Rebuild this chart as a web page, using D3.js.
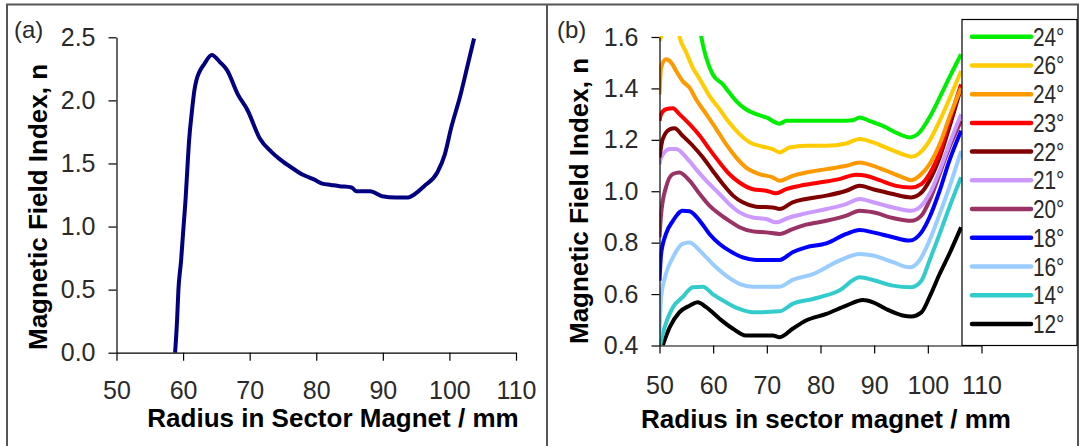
<!DOCTYPE html>
<html>
<head>
    <meta charset="utf-8">
    <title>Magnetic Field Index</title>
    <style>
        body { margin: 0; background: #fff; }
        text { font-family: "Liberation Sans", Arial, sans-serif; }
    </style>
</head>
<body>
    <script src="https://cdnjs.cloudflare.com/ajax/libs/d3/7.9.0/d3.min.js"></script>
    <script>

        // panel (a): radius (mm) and field index n
        const radiusA = [58.8, 59.1, 59.3, 59.7, 60.0, 60.4, 60.6, 60.9, 61.3, 61.7, 62.0, 62.4, 63.2, 64.3, 65.6, 66.6, 68.2, 69.7, 71.5, 73.3, 74.6, 76.5, 78.0, 79.8, 80.9, 82.2, 83.5, 85.3, 86.0, 88.1, 89.9, 92.0, 93.8, 94.6, 96.2, 98.2, 99.3, 100.3, 101.6, 102.7, 103.7];
        const indexA = [0.0, 0.26, 0.50, 0.73, 0.95, 1.24, 1.42, 1.68, 1.90, 2.08, 2.16, 2.22, 2.29, 2.36, 2.30, 2.24, 2.05, 1.92, 1.70, 1.59, 1.53, 1.46, 1.41, 1.37, 1.34, 1.33, 1.32, 1.31, 1.28, 1.28, 1.24, 1.23, 1.23, 1.25, 1.32, 1.43, 1.57, 1.79, 2.03, 2.27, 2.49];

        // panel (b): one curve per angle, [radius, n]
        const curve24top = [[57.3, 1.68], [57.8, 1.60], [58.7, 1.52], [59.9, 1.455], [61.8, 1.416], [63.0, 1.384], [64.3, 1.351], [66.1, 1.319], [68.0, 1.30], [69.9, 1.287], [72.4, 1.263], [73.6, 1.274], [77.3, 1.274], [83.5, 1.274], [86.0, 1.276], [87.3, 1.287], [89.1, 1.274], [91.6, 1.254], [94.7, 1.222], [96.6, 1.209], [98.4, 1.228], [100.3, 1.287], [102.2, 1.364], [104.0, 1.442], [106.2, 1.533]];
        const curve26 = [[50.0, 1.585], [50.3, 1.60], [52.0, 1.68], [53.2, 1.66], [53.7, 1.604], [55.0, 1.539], [56.2, 1.481], [57.5, 1.436], [59.3, 1.371], [61.2, 1.319], [63.0, 1.267], [64.9, 1.222], [66.8, 1.19], [69.3, 1.173], [71.1, 1.164], [72.4, 1.151], [74.2, 1.170], [77.3, 1.177], [81.1, 1.177], [84.8, 1.186], [87.3, 1.203], [89.8, 1.190], [92.2, 1.170], [95.3, 1.144], [96.9, 1.134], [98.8, 1.155], [100.3, 1.196], [102.2, 1.274], [104.0, 1.358], [106.2, 1.468]];
        const curve24 = [[50.0, 1.377], [50.3, 1.481], [51.2, 1.513], [52.2, 1.50], [53.1, 1.468], [54.3, 1.429], [55.6, 1.403], [56.8, 1.358], [58.7, 1.30], [60.6, 1.241], [62.4, 1.183], [64.3, 1.131], [66.1, 1.093], [68.6, 1.067], [71.1, 1.054], [72.4, 1.041], [74.8, 1.06], [77.3, 1.073], [81.1, 1.086], [84.8, 1.099], [87.3, 1.112], [89.8, 1.099], [92.2, 1.08], [95.3, 1.054], [96.9, 1.043], [98.8, 1.067], [100.3, 1.105], [102.2, 1.183], [104.0, 1.287], [106.2, 1.403]];
        const curve23 = [[50.0, 1.274], [50.3, 1.30], [51.2, 1.319], [52.5, 1.323], [53.7, 1.30], [55.6, 1.261], [57.5, 1.216], [59.3, 1.164], [61.2, 1.112], [63.0, 1.067], [64.9, 1.034], [67.4, 1.008], [69.9, 1.002], [71.7, 0.992], [73.6, 1.008], [76.1, 1.021], [79.8, 1.034], [83.5, 1.047], [86.6, 1.064], [88.5, 1.06], [91.0, 1.043], [94.1, 1.021], [96.9, 1.015], [98.8, 1.028], [100.3, 1.067], [102.2, 1.151], [104.0, 1.274], [106.2, 1.416]];
        const curve22 = [[50.0, 1.131], [50.6, 1.203], [51.9, 1.241], [52.8, 1.245], [54.3, 1.216], [56.2, 1.177], [58.1, 1.131], [59.9, 1.08], [61.8, 1.028], [63.7, 0.983], [65.5, 0.957], [68.0, 0.94], [71.1, 0.937], [72.4, 0.931], [74.8, 0.957], [77.3, 0.970], [81.1, 0.983], [84.8, 1.002], [87.3, 1.021], [89.8, 1.008], [93.5, 0.989], [96.9, 0.976], [98.8, 0.995], [100.3, 1.041], [102.2, 1.131], [104.0, 1.248], [106.2, 1.403]];
        const curve21 = [[50.0, 1.105], [50.3, 1.131], [51.9, 1.164], [53.1, 1.164], [55.0, 1.131], [56.8, 1.086], [58.7, 1.041], [61.2, 0.989], [63.0, 0.950], [64.9, 0.918], [67.4, 0.898], [69.9, 0.892], [71.7, 0.879], [74.2, 0.898], [77.3, 0.914], [81.1, 0.931], [84.8, 0.95], [87.3, 0.970], [89.8, 0.957], [93.5, 0.937], [96.9, 0.924], [98.8, 0.944], [100.3, 0.989], [102.2, 1.08], [104.0, 1.183], [106.2, 1.30]];
        const curve20 = [[50.0, 0.821], [50.3, 0.911], [51.2, 1.015], [52.5, 1.067], [53.7, 1.073], [55.6, 1.041], [57.5, 0.989], [59.3, 0.944], [61.2, 0.911], [63.0, 0.885], [64.9, 0.86], [67.4, 0.844], [69.9, 0.840], [72.4, 0.834], [74.8, 0.853], [77.3, 0.87], [81.1, 0.885], [84.8, 0.905], [87.3, 0.924], [89.8, 0.918], [93.5, 0.896], [96.9, 0.885], [98.8, 0.905], [100.3, 0.963], [102.2, 1.067], [104.0, 1.17], [106.2, 1.274]];
        const curve18 = [[50.0, 0.652], [50.3, 0.756], [51.2, 0.834], [52.5, 0.885], [54.3, 0.924], [55.6, 0.922], [57.5, 0.885], [59.3, 0.834], [61.2, 0.795], [63.0, 0.769], [65.5, 0.743], [68.0, 0.733], [72.4, 0.733], [74.8, 0.763], [77.3, 0.782], [81.1, 0.797], [84.8, 0.834], [87.3, 0.849], [89.8, 0.84], [93.5, 0.821], [96.6, 0.808], [98.8, 0.84], [100.3, 0.898], [102.2, 1.002], [104.0, 1.118], [106.2, 1.235]];
        const curve16 = [[50.0, 0.445], [50.3, 0.588], [51.2, 0.678], [52.5, 0.743], [54.3, 0.795], [55.6, 0.801], [57.5, 0.769], [59.9, 0.717], [62.4, 0.672], [64.9, 0.64], [67.4, 0.629], [72.4, 0.629], [74.8, 0.655], [78.6, 0.678], [83.5, 0.730], [87.3, 0.756], [89.8, 0.75], [93.5, 0.724], [96.6, 0.704], [98.4, 0.73], [100.3, 0.808], [102.2, 0.911], [104.0, 1.015], [106.2, 1.157]];
        const curve14 = [[50.1, 0.40], [50.6, 0.445], [52.5, 0.549], [54.3, 0.588], [56.2, 0.627], [58.1, 0.629], [59.9, 0.60], [62.4, 0.568], [64.9, 0.542], [67.4, 0.529], [72.4, 0.533], [74.8, 0.562], [78.6, 0.581], [83.5, 0.614], [87.3, 0.665], [89.8, 0.655], [93.5, 0.633], [96.9, 0.627], [98.8, 0.652], [100.3, 0.73], [102.2, 0.834], [104.0, 0.937], [106.2, 1.054]];
        const curve12 = [[50.6, 0.40], [51.9, 0.471], [53.7, 0.529], [55.6, 0.555], [57.1, 0.568], [58.7, 0.549], [61.2, 0.504], [63.7, 0.465], [66.1, 0.439], [68.6, 0.439], [71.1, 0.439], [72.4, 0.432], [74.8, 0.465], [77.3, 0.497], [81.1, 0.523], [84.8, 0.555], [87.9, 0.577], [89.8, 0.568], [92.2, 0.542], [95.3, 0.517], [96.9, 0.513], [98.8, 0.529], [100.3, 0.588], [102.2, 0.678], [104.0, 0.756], [106.2, 0.86]];

        const curvesB = [curve24top, curve26, curve24, curve23, curve22, curve21, curve20, curve18, curve16, curve14, curve12];
        const labelsB = ["24°", "26°", "24°", "23°", "22°", "21°", "20°", "18°", "16°", "14°", "12°"];
        const colorsB = ["#00ee00", "#ffcc00", "#ff9900", "#ff0000", "#800000", "#cc99ff", "#993366", "#0000ff", "#99ccff", "#33cccc", "#000000"];

        const ticksXA = [50, 60, 70, 80, 90, 100, 110];
        const ticksYA = [0, 0.5, 1.0, 1.5, 2.0, 2.5];
        const ticksXB = [50, 60, 70, 80, 90, 100, 110];
        const ticksYB = [0.4, 0.6, 0.8, 1.0, 1.2, 1.4, 1.6];

        const width = 1079;
        const height = 446;

        const svg = d3.select("body")
            .append("svg")
            .attr("width", width)
            .attr("height", height);

        // outer frame and divider
        svg.append("rect")
            .attr("x", 7).attr("y", 4.5)
            .attr("width", 1071).attr("height", 460)
            .attr("fill", "none")
            .attr("stroke", "#555")
            .attr("stroke-width", 2);
        svg.append("line")
            .attr("x1", 547).attr("x2", 547)
            .attr("y1", 4).attr("y2", height)
            .attr("stroke", "#555")
            .attr("stroke-width", 2);

        function styleAxis(g) {
            g.selectAll("path, line").attr("stroke", "#000").attr("stroke-width", 1.2);
            g.selectAll("text")
                .attr("font-family", "'Liberation Sans', Arial, sans-serif")
                .attr("font-size", 25)
                .attr("fill", "#2a2a2a");
        }

        // ---------- panel (a) ----------
        const xA = d3.scaleLinear().domain([50, 110]).range([116.5, 516]);
        const yA = d3.scaleLinear().domain([0, 2.5]).range([352.7, 37.3]);

        svg.append("path")
            .datum(d3.zip(radiusA, indexA))
            .attr("fill", "none")
            .attr("stroke", "#000080")
            .attr("stroke-width", 4)
            .attr("stroke-linejoin", "round")
            .attr("d", d3.line().curve(d3.curveMonotoneX).x(d => xA(d[0])).y(d => yA(d[1])));

        svg.append("g")
            .attr("transform", `translate(0,${yA(0)})`)
            .call(d3.axisBottom(xA).tickValues(ticksXA).tickSize(8).tickSizeOuter(0).tickPadding(21).tickFormat(d3.format("d")))
            .call(styleAxis);

        svg.append("g")
            .attr("transform", `translate(${xA(50)},0)`)
            .call(d3.axisLeft(yA).tickValues(ticksYA).tickSize(8).tickSizeOuter(0).tickPadding(13).tickFormat(d3.format(".1f")))
            .call(styleAxis);

        svg.append("text")
            .attr("x", 14).attr("y", 38)
            .attr("font-size", 24)
            .attr("fill", "#2a2a2a")
            .text("(a)");

        svg.append("text")
            .attr("x", 333).attr("y", 427)
            .attr("text-anchor", "middle")
            .attr("font-size", 26)
            .attr("font-weight", "bold")
            .text("Radius in Sector Magnet / mm");

        svg.append("text")
            .attr("transform", "translate(47,207) rotate(-90)")
            .attr("text-anchor", "middle")
            .attr("font-size", 26)
            .attr("font-weight", "bold")
            .text("Magnetic Field Index, n");

        // ---------- panel (b) ----------
        const xB = d3.scaleLinear().domain([50, 110]).range([659.5, 981.5]);
        const yB = d3.scaleLinear().domain([0.4, 1.6]).range([345.5, 37]);

        svg.append("defs").append("clipPath")
            .attr("id", "clipB")
            .append("rect")
            .attr("x", xB(50)).attr("y", yB(1.6) - 1)
            .attr("width", xB(110) - xB(50)).attr("height", yB(0.4) - yB(1.6) + 1);

        const lineB = d3.line().curve(d3.curveMonotoneX).x(d => xB(d[0])).y(d => yB(d[1]));

        svg.append("g")
            .attr("clip-path", "url(#clipB)")
            .selectAll("path")
            .data(curvesB.slice().reverse())
            .join("path")
            .attr("fill", "none")
            .attr("stroke", (d, i) => colorsB[curvesB.length - 1 - i])
            .attr("stroke-width", 4)
            .attr("stroke-linejoin", "round")
            .attr("d", lineB);

        svg.append("g")
            .attr("transform", `translate(0,${yB(0.4)})`)
            .call(d3.axisBottom(xB).tickValues(ticksXB).tickSize(8).tickSizeOuter(0).tickPadding(23).tickFormat(d3.format("d")))
            .call(styleAxis);

        svg.append("g")
            .attr("transform", `translate(${xB(50)},0)`)
            .call(d3.axisLeft(yB).tickValues(ticksYB).tickSize(8).tickSizeOuter(0).tickPadding(13).tickFormat(d3.format(".1f")))
            .call(styleAxis);

        svg.append("text")
            .attr("x", 557).attr("y", 38)
            .attr("font-size", 24)
            .attr("fill", "#2a2a2a")
            .text("(b)");

        svg.append("text")
            .attr("x", 826).attr("y", 428)
            .attr("text-anchor", "middle")
            .attr("font-size", 26)
            .attr("font-weight", "bold")
            .text("Radius in sector magnet / mm");

        svg.append("text")
            .attr("transform", "translate(588,201) rotate(-90)")
            .attr("text-anchor", "middle")
            .attr("font-size", 26)
            .attr("font-weight", "bold")
            .text("Magnetic Field Index, n");

        // legend
        const legend = svg.append("g");
        legend.append("rect")
            .attr("x", 962).attr("y", 19.5)
            .attr("width", 115).attr("height", yB(0.4) - 19.5)
            .attr("fill", "#fff")
            .attr("stroke", "#000")
            .attr("stroke-width", 1.2);

        const rowY = d3.scalePoint().domain(d3.range(labelsB.length)).range([36.7, 324]);

        const rows = legend.selectAll("g.row")
            .data(labelsB)
            .join("g")
            .attr("class", "row")
            .attr("transform", (d, i) => `translate(0,${rowY(i)})`);

        rows.append("line")
            .attr("x1", 972).attr("x2", 1031)
            .attr("stroke", (d, i) => colorsB[i])
            .attr("stroke-width", 4.5)
            .attr("stroke-linecap", "round");

        // condensed digits, as in the original legend
        rows.append("text")
            .attr("transform", "translate(1033,9) scale(0.8,1)")
            .attr("font-size", 26)
            .attr("fill", "#2a2a2a")
            .text(d => d);

    </script>
</body>
</html>
